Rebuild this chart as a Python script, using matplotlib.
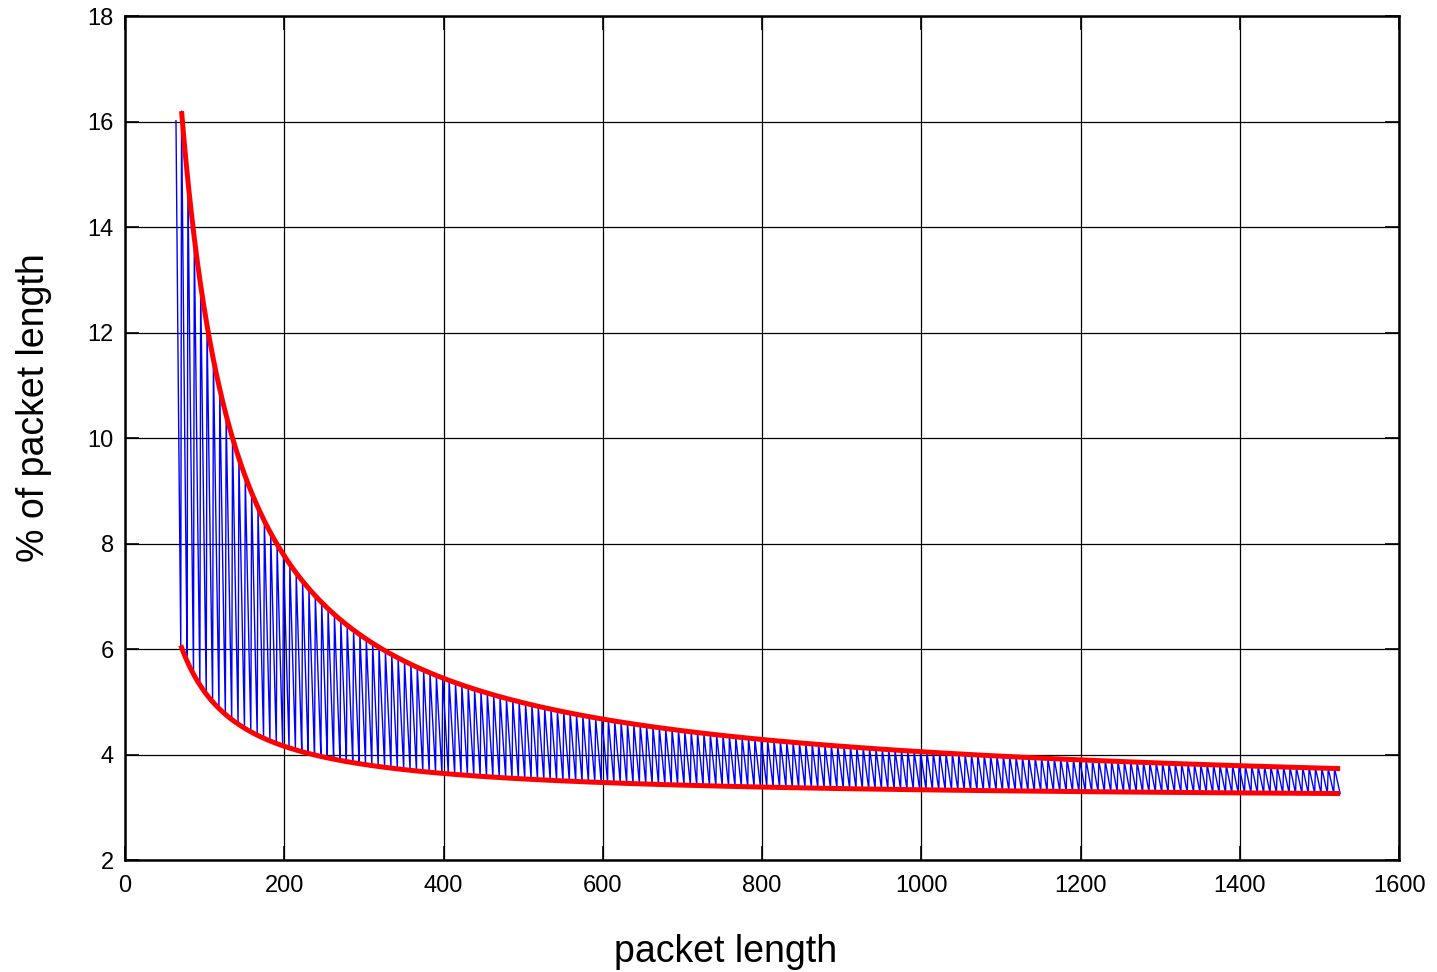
import numpy as np
import matplotlib
matplotlib.use("Agg")
import matplotlib.pyplot as plt

plt.rcParams['font.family'] = ['Liberation Sans', 'DejaVu Sans']

# Datos: longitud de paquete (bytes) y codificacion 64b/66b en bloques de 8 bytes
long_min = 64
long_max = 1526
bytes_bloque = 8
bits_bloque = 66
bytes_extra = 2

x_ticks = [0, 200, 400, 600, 800, 1000, 1200, 1400, 1600]
y_ticks = [2, 4, 6, 8, 10, 12, 14, 16, 18]


def sobrecarga(longitud, relleno=None):
    longitud = np.asarray(longitud, dtype=float)
    if relleno is None:
        bloques = np.ceil((longitud + bytes_extra) / bytes_bloque)
    else:
        bloques = (longitud + bytes_extra + relleno) / bytes_bloque
    bits = bloques * bits_bloque
    return (bits - 8 * longitud) / (8 * longitud) * 100


longitudes = np.arange(long_min, long_max + 1)
valores = sobrecarga(longitudes)

# Envolventes (maximo y minimo de cada diente)
long_sup = np.arange(71, long_max + 1)
env_sup = sobrecarga(long_sup, relleno=7)
long_inf = np.arange(70, long_max + 1)
env_inf = sobrecarga(long_inf, relleno=0)

fig = plt.figure(figsize=(14.37, 9.72), dpi=100)
ax = fig.add_axes([0.087, 0.1152, 0.8866, 0.8683])

ax.plot(longitudes, valores, color='blue', linewidth=1.0)
ax.plot(long_sup, env_sup, color='red', linewidth=3.6, solid_capstyle='butt')
ax.plot(long_inf, env_inf, color='red', linewidth=3.6, solid_capstyle='butt')

ax.set_xlim(0, 1600)
ax.set_ylim(2, 18)
ax.set_xticks(x_ticks)
ax.set_yticks(y_ticks)
ax.grid(True, color='black', linewidth=0.9)
ax.tick_params(direction='in', length=10, width=1.2, labelsize=17,
               top=True, right=True)
ax.tick_params(axis='x', pad=11)
ax.tick_params(axis='y', pad=8)
for s in ax.spines.values():
    s.set_linewidth(1.8)

ax.set_xlabel('packet length', fontsize=27)
ax.set_ylabel('% of packet length', fontsize=27)
ax.xaxis.set_label_coords(0.471, -0.088)
ax.yaxis.set_label_coords(-0.057, 0.5355)

plt.savefig('out.png', dpi=100)
